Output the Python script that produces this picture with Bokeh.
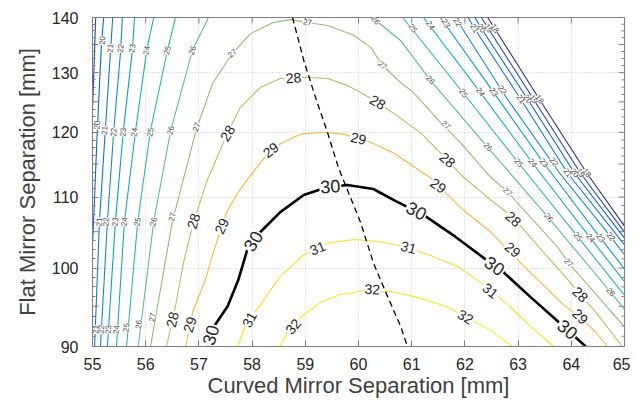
from bokeh.plotting import figure
from bokeh.models import FixedTicker, BasicTickFormatter
from bokeh.core.properties import value
from bokeh.embed import file_html
from bokeh.resources import INLINE

# ---------------- data ----------------
x_ticks = [55, 56, 57, 58, 59, 60, 61, 62, 63, 64, 65]
y_label_ticks = [90, 100, 110, 120, 130, 140]
y_half_ticks = [95, 105, 115, 125, 135]

# contour branches (curved mirror sep [mm], flat mirror sep [mm])
c18_x = [62.43, 62.56, 63.40, 64.29, 65.0]
c18_y = [140.0, 137.95, 125.44, 113.61, 105.8]
c19_x = [62.31, 62.44, 63.29, 64.17, 65.0]
c19_y = [140.0, 137.95, 125.44, 113.61, 104.95]
c19_left_x = [55.06, 55.02, 55.0]
c19_left_y = [140.0, 128.7, 123.6]
c20_x = [62.19, 62.31, 63.18, 64.06, 65.0]
c20_y = [140.0, 137.95, 125.44, 113.61, 104.1]
c20_left_x = [55.21, 55.17, 55.09, 55.02, 55.0]
c20_left_y = [140.0, 135.4, 120.3, 106.4, 103.2]
c21_x = [62.06, 62.18, 63.05, 63.93, 65.0]
c21_y = [140.0, 137.95, 125.44, 113.61, 103.15]
left_y = [140.0, 134.0, 120.3, 106.4, 90.0]
c21_left_x = [55.38, 55.34, 55.24, 55.13, 55.04]
c22_left_x = [55.56, 55.53, 55.40, 55.28, 55.15]
c23_left_x = [55.79, 55.75, 55.58, 55.43, 55.28]
c24_left_x = [56.15, 56.02, 55.81, 55.60, 55.45]
c25_left_x = [56.56, 56.41, 56.09, 55.85, 55.64]
c26_left_x = [57.18, 56.88, 56.47, 56.15, 55.86]
c22_x = [61.82, 62.80, 63.78, 64.74, 65.0]
c22_y = [140.0, 125.44, 113.61, 104.3, 101.8]
c23_x = [61.54, 62.54, 63.48, 64.55, 65.0]
c23_y = [140.0, 126.6, 115.15, 104.1, 99.9]
c24_x = [61.22, 62.29, 63.27, 64.36, 65.0]
c24_y = [140.0, 126.6, 115.15, 104.1, 98.2]
c25_x = [60.83, 61.97, 63.01, 64.12, 65.0]
c25_y = [140.0, 126.5, 115.15, 104.3, 96.4]
c26_x = [60.26, 60.79, 61.35, 62.43, 63.57, 64.74, 65.0]
c26_y = [140.0, 135.75, 128.7, 117.6, 107.0, 96.8, 94.6]
c27_x = [56.09, 56.50, 56.96, 57.26, 57.63, 57.97, 58.40, 58.72, 59.04, 59.42, 59.91, 60.23,
         60.45, 60.79, 61.03, 61.54, 61.92, 62.48, 62.80, 63.05, 63.74, 63.95, 64.17, 65.0]
c27_y = [90.0, 106.4, 120.7, 128.2, 133.4, 137.0, 139.07, 139.6, 139.07, 138.5, 136.7, 134.5,
         131.3, 128.3, 126.6, 121.6, 118.3, 113.0, 110.8, 108.6, 102.9, 100.7, 98.9, 92.4]
c28_x = [56.39, 56.56, 56.71, 56.90, 57.16, 57.54, 57.78, 58.16, 58.53, 58.97, 59.42, 59.79, 60.04,
         60.36, 60.66, 61.17, 61.67, 61.97, 62.42, 62.91, 63.52, 63.93, 64.17, 64.42, 64.96]
c28_y = [90.0, 95.0, 100.7, 106.4, 112.6, 119.9, 124.1, 127.5, 129.0, 129.2, 129.0, 127.8, 126.6,
         124.9, 123.1, 119.9, 115.6, 113.0, 110.0, 107.0, 101.8, 98.5, 96.5, 94.6, 90.0]
c29_x = [56.75, 56.88, 57.12, 57.27, 57.52, 57.73, 57.91, 58.16, 58.35, 58.59, 58.91, 59.34, 59.72,
         60.23, 60.66, 61.35, 61.97, 62.48, 62.99, 63.42, 63.85, 64.17, 64.45, 64.68]
c29_y = [90.0, 94.2, 98.4, 102.1, 107.8, 110.6, 112.6, 115.2, 117.2, 118.4, 119.7, 120.0, 119.7,
         118.4, 116.7, 112.9, 108.1, 105.0, 101.1, 98.1, 95.2, 93.6, 91.8, 90.0]
c30_x = [57.18, 57.29, 57.54, 57.74, 57.91, 58.16, 58.53, 58.97, 59.38, 59.79, 60.28, 60.70,
         61.22, 61.82, 62.44, 62.67, 63.23, 63.83, 64.27]
c30_y = [90.0, 92.5, 95.0, 98.4, 102.5, 105.0, 107.8, 110.3, 111.4, 111.8, 111.2, 109.4,
         107.4, 104.3, 100.9, 99.8, 96.2, 92.6, 90.0]
c31_x = [57.73, 57.88, 58.16, 58.53, 58.97, 59.42, 59.91, 60.41, 60.94, 61.35, 61.86, 62.29, 62.76,
         63.23, 63.67]
c31_y = [90.0, 92.7, 95.2, 98.9, 101.8, 103.4, 103.9, 103.6, 102.8, 101.7, 100.2, 98.1, 95.5,
         92.5, 90.0]
c32_x = [58.52, 58.65, 58.91, 59.29, 59.66, 60.13, 60.60, 61.07, 61.64, 62.11, 62.48, 62.89]
c32_y = [90.0, 91.5, 93.6, 95.5, 96.5, 97.0, 96.9, 96.2, 95.0, 93.3, 92.0, 90.0]

# ridge (dashed) line
ridge_x = [58.76, 58.97, 59.19, 59.42, 59.62, 59.79, 60.04, 60.28, 60.55, 60.79, 60.92]
ridge_y = [140.0, 132.2, 125.8, 119.9, 114.5, 111.1, 106.3, 100.7, 96.2, 92.5, 90.0]

# inline contour labels
small_text = ["20", "21", "22", "23", "24", "25", "26", "27",
              "20", "21", "22", "23", "24", "25", "26", "27",
              "21", "22", "23", "24", "25", "26", "27",
              "21", "22", "23", "24", "25", "26", "27",
              "27", "26", "27",
              "25", "24", "23", "22", "21", "20", "19", "18",
              "26", "27", "25", "24", "23", "22", "21", "20", "19", "18",
              "26", "27", "25", "24", "23", "22", "21", "20", "19", "18",
              "26", "25", "24", "23", "22", "27", "26"]
small_x = [55.19, 55.34, 55.53, 55.75, 56.02, 56.41, 56.88, 57.63,
           55.09, 55.23, 55.40, 55.58, 55.79, 56.09, 56.47, 56.96,
           55.13, 55.26, 55.43, 55.60, 55.85, 56.15, 56.50,
           55.06, 55.17, 55.30, 55.45, 55.64, 55.87, 56.13,
           59.04, 60.32, 60.45,
           61.02, 61.35, 61.64, 61.86, 62.18, 62.31, 62.44, 62.56,
           61.35, 61.64, 61.97, 62.29, 62.54, 62.70, 63.05, 63.18, 63.29, 63.40,
           62.43, 62.80, 63.01, 63.27, 63.48, 63.67, 63.93, 64.06, 64.17, 64.29,
           63.57, 64.12, 64.36, 64.55, 64.74, 63.95, 64.74]
small_y = [135.75, 134.31, 134.31, 134.31, 133.95, 133.95, 133.95, 133.4,
           121.15, 120.3, 120.02, 120.02, 120.02, 120.02, 120.3, 120.83,
           106.4, 106.4, 106.4, 106.4, 106.4, 106.4, 107.1,
           92.08, 92.08, 92.08, 92.08, 92.33, 92.70, 93.6,
           139.07, 139.44, 131.29,
           137.95, 138.51, 138.88, 139.07, 137.95, 137.95, 137.95, 137.95,
           128.7, 121.15, 126.46, 126.63, 126.63, 127.0, 125.44, 125.44, 125.44, 125.44,
           117.64, 110.77, 115.15, 115.15, 115.15, 115.30, 113.61, 113.61, 113.61, 113.61,
           107.0, 104.3, 104.1, 104.1, 104.3, 100.7, 96.8]
small_angle = [86, 85, 84, 82, 80, 76, 68, 42,
               87, 86, 85, 84, 83, 81, 77, 68,
               87, 86, 85, 84, 82, 80, 76,
               88, 87, 86, 85, 84, 82, 79,
               -8, -52, -40,
               -56, -57, -58, -58, -58, -58, -58, -58,
               -48, -45, -55, -55, -55, -55, -55, -55, -55, -55,
               -47, -45, -53, -53, -53, -53, -53, -53, -53, -53,
               -50, -52, -52, -52, -52, -45, -50]

big_text = ["28", "28", "28", "28", "28", "28", "28", "28",
            "29", "29", "29", "29", "29", "29", "29",
            "31", "31", "31", "31",
            "32", "32", "32"]
big_x = [56.50, 56.90, 57.54, 58.78, 60.36, 61.67, 62.91, 64.17,
         56.83, 57.43, 58.35, 60.0, 61.50, 62.90, 64.17,
         57.95, 59.23, 60.94, 62.48,
         58.77, 60.26, 62.01]
big_y = [93.32, 106.5, 119.86, 129.1, 124.94, 115.61, 106.8, 96.5,
         92.70, 105.8, 117.17, 119.0, 111.7, 102.5, 93.7,
         93.32, 102.7, 102.8, 97.0,
         92.46, 97.2, 93.66]
big_angle = [77, 72, 58, 3, -30, -40, -42, -45,
             73, 65, 38, -14, -35, -40, -45,
             62, 22, -15, -38,
             50, -3, -30]

hi_text = ["30", "30", "30", "30", "30", "30"]
hi_x = [57.22, 58.02, 59.47, 61.09, 62.56, 63.93]
hi_y = [91.4, 103.7, 111.6, 108.0, 100.3, 92.1]
hi_angle = [73, 58, 4, -28, -34, -39]

# ---------------- styling ----------------
level_color = {18: "#352a87", 19: "#1f47b8", 20: "#1061dc", 21: "#1376d8", 22: "#108bd3",
               23: "#089fcc", 24: "#17acba", 25: "#2eb7a4", 26: "#61bc8a", 27: "#92be73",
               28: "#bcbc62", 29: "#f0b941", 30: "#000000", 31: "#fcde23", 32: "#f2ef1c"}

branches = [
    (18, c18_x, c18_y), (19, c19_x, c19_y), (19, c19_left_x, c19_left_y),
    (20, c20_x, c20_y), (20, c20_left_x, c20_left_y),
    (21, c21_x, c21_y), (21, c21_left_x, left_y),
    (22, c22_x, c22_y), (22, c22_left_x, left_y),
    (23, c23_x, c23_y), (23, c23_left_x, left_y),
    (24, c24_x, c24_y), (24, c24_left_x, left_y),
    (25, c25_x, c25_y), (25, c25_left_x, left_y),
    (26, c26_x, c26_y), (26, c26_left_x, left_y),
    (27, c27_x, c27_y), (28, c28_x, c28_y), (29, c29_x, c29_y),
    (31, c31_x, c31_y), (32, c32_x, c32_y), (30, c30_x, c30_y),
]

FONT = "Liberation Sans"
AXIS_GRAY = "#7f7f7f"

p = figure(width=630, height=400, x_range=(55, 65), y_range=(90, 140), y_axis_type="log",
           output_backend="svg", toolbar_location=None,
           min_border_left=92, min_border_right=6, min_border_top=17, min_border_bottom=53,
           background_fill_color="white", border_fill_color="white",
           outline_line_color=AXIS_GRAY)

minor_y = [90 + 1.25 * k for k in range(41) if k % 4 != 0]


def style_axis(ax):
    ax.axis_line_color = AXIS_GRAY
    ax.major_tick_line_color = AXIS_GRAY
    ax.minor_tick_line_color = AXIS_GRAY
    ax.major_tick_in = 6
    ax.major_tick_out = 0
    ax.minor_tick_in = 3
    ax.minor_tick_out = 0
    ax.major_label_text_font = FONT
    ax.major_label_text_font_size = "16px"
    ax.major_label_text_color = "#262626"
    ax.axis_label_text_font = FONT
    ax.axis_label_text_font_size = "22px"
    ax.axis_label_text_font_style = "normal"
    ax.axis_label_text_color = "#404040"


xa = p.xaxis[0]
xa.ticker = FixedTicker(ticks=x_ticks, minor_ticks=[])
style_axis(xa)
xa.axis_label = "Curved Mirror Separation [mm]"
xa.major_label_standoff = 11
xa.axis_label_standoff = 0

ya = p.yaxis[0]
ya.ticker = FixedTicker(ticks=y_label_ticks, minor_ticks=minor_y)
ya.formatter = BasicTickFormatter()
style_axis(ya)
ya.axis_label = "Flat Mirror Separation [mm]"
ya.major_label_standoff = 14
ya.axis_label_standoff = 9

p.xgrid.ticker = FixedTicker(ticks=x_ticks[1:-1])
p.ygrid.ticker = FixedTicker(ticks=y_label_ticks[1:-1])
for g in (p.xgrid[0], p.ygrid[0]):
    g.grid_line_color = "#cccccc"
    g.grid_line_dash = "1 2"
    g.grid_line_width = 1

# mirrored box ticks (top and right) and the longer half-decade ticks on the left
tick_style = dict(length_units="screen", angle_units="deg", line_color=AXIS_GRAY, line_width=1)
p.ray(x=x_ticks[1:-1], y=[140] * 9, length=6, angle=-90, **tick_style)
p.ray(x=[55] * len(y_half_ticks), y=y_half_ticks, length=6, angle=0, **tick_style)
p.ray(x=[65] * 11, y=sorted(y_label_ticks + y_half_ticks), length=6, angle=180, **tick_style)
p.ray(x=[65] * len(minor_y), y=minor_y, length=3, angle=180, **tick_style)

for lvl, xs, ys in branches:
    p.line(xs, ys, line_color=level_color[lvl], line_width=(2.6 if lvl == 30 else 1.1))

common = dict(angle_units="deg", text_font=value(FONT), text_align="center",
              text_baseline="middle", background_fill_color="white")
p.text(x=small_x, y=small_y, text=small_text, angle=small_angle,
       text_font_size=value("8px"), text_color="#4d4d4d", padding=0, **common)
p.text(x=big_x, y=big_y, text=big_text, angle=big_angle,
       text_font_size=value("14px"), text_color="#262626", padding=1, **common)
p.text(x=hi_x, y=hi_y, text=hi_text, angle=hi_angle,
       text_font_size=value("18px"), text_color="#262626", padding=1, **common)

p.line(ridge_x, ridge_y, line_color="black", line_width=1.3, line_dash="6 4")

open("out.html", "w").write(file_html(p, INLINE))
